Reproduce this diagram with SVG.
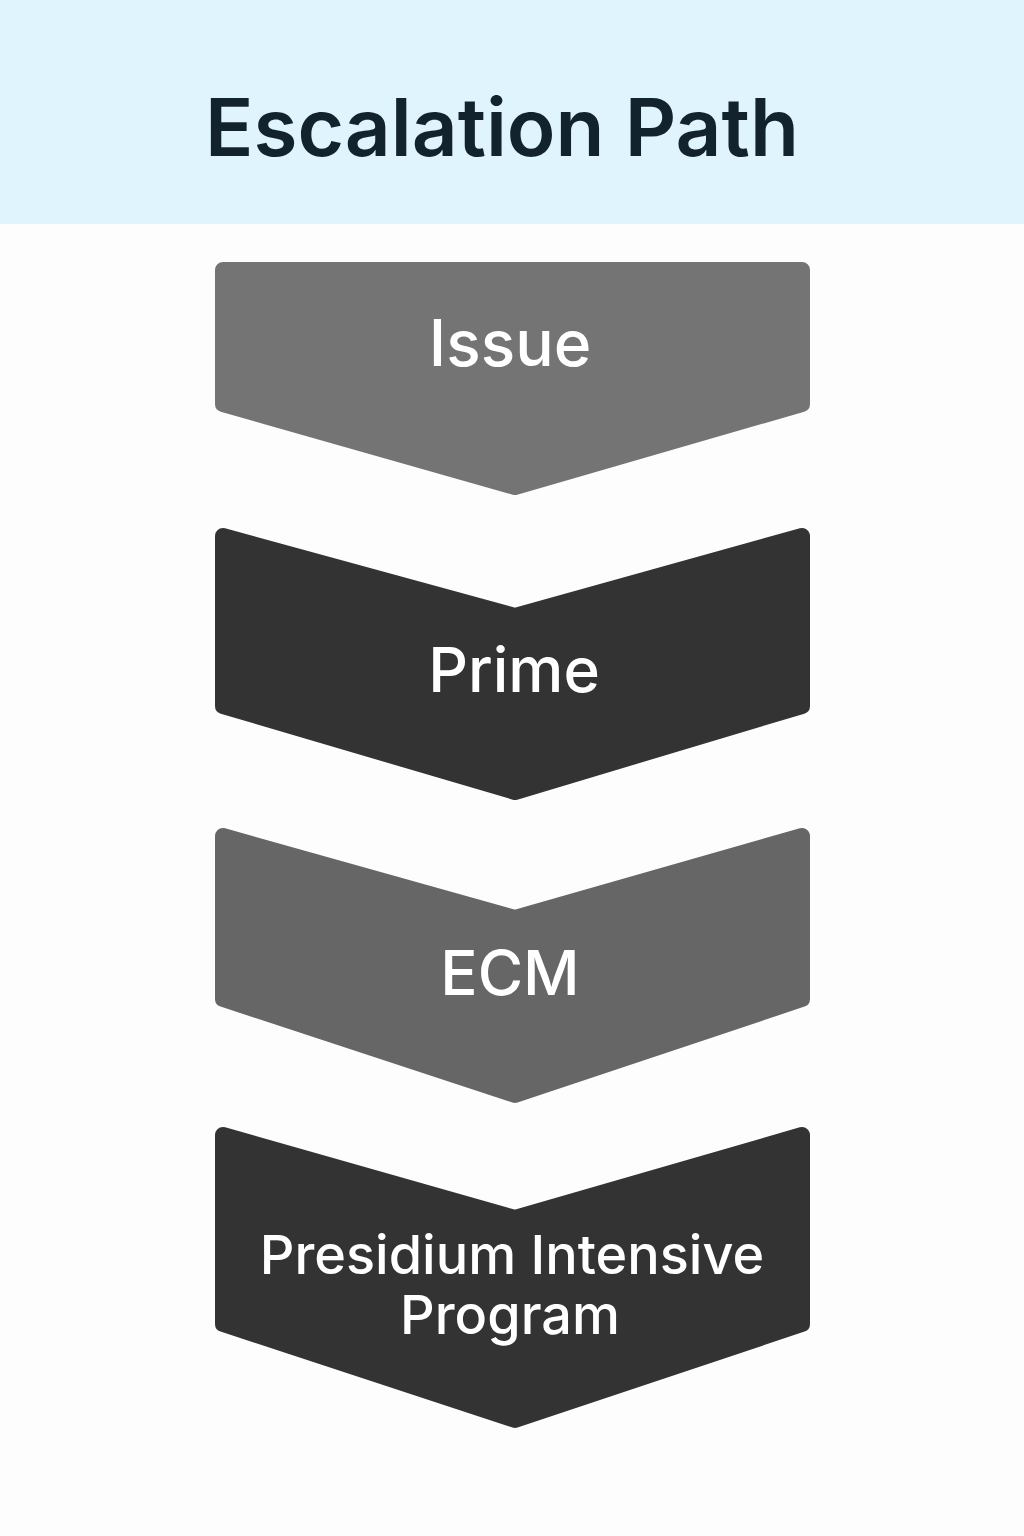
<svg xmlns="http://www.w3.org/2000/svg" width="1024" height="1536" viewBox="0 0 1024 1536">
<style>
.s{stroke-width:16;stroke-linejoin:round}
.t{font-family:Inter,"Liberation Sans",sans-serif;font-weight:500;fill:#fff;text-anchor:middle}
.light{fill:#747474;stroke:#747474}
.mid{fill:#666666;stroke:#666666}
.dark{fill:#333333;stroke:#333333}
</style>
<rect width="1024" height="1536" fill="#fdfdfd"/>
<rect width="1024" height="224" fill="#e0f4fd"/>
<text x="502" y="156" font-family="Inter,'Liberation Sans',sans-serif" font-weight="600" font-size="80" fill="#13232e" text-anchor="middle">Escalation Path</text>
<g id="issue"><path class="s light" d="M223 270 H802 V404 L515 487 L223 404 Z"/><text class="t" x="510" y="366" font-size="64">Issue</text></g>
<g id="prime"><path class="s dark" d="M223 536 L515 616 L802 536 V706 L515 792 L223 706 Z"/><text class="t" x="514" y="692" font-size="62">Prime</text></g>
<g id="ecm"><path class="s mid" d="M223 836 L515 918 L802 836 V999 L515 1095 L223 999 Z"/><text class="t" x="510" y="995" font-size="62">ECM</text></g>
<g id="pip"><path class="s dark" d="M223 1135 L515 1218 L802 1135 V1324 L515 1420 L223 1324 Z"/><text class="t" x="512" y="1274" font-size="54">Presidium Intensive</text><text class="t" x="510" y="1334" font-size="54">Program</text></g>
<g id="connectors"/>
</svg>
